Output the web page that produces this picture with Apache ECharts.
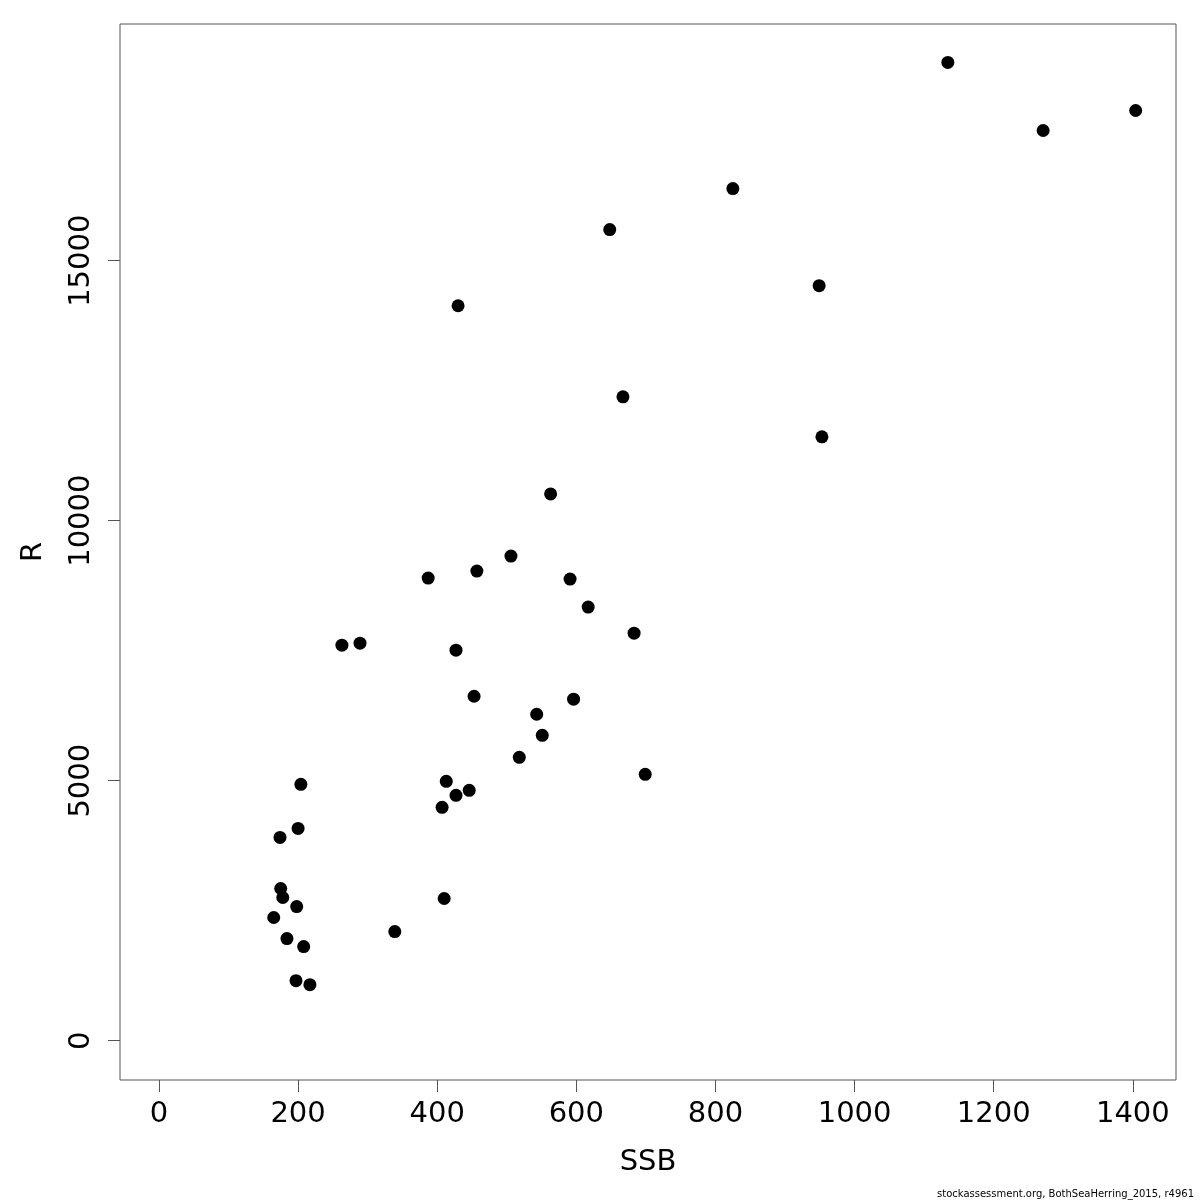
<!DOCTYPE html>
<html>
<head>
<meta charset="utf-8">
<script src="https://cdn.jsdelivr.net/npm/echarts@6/dist/echarts.min.js"></script>
<style>html,body{margin:0;padding:0;background:#fff}#c{width:1200px;height:1200px}</style>
</head>
<body>
<div id="c"></div>
<script>
const ssb = [1134, 1271, 1404, 825, 648, 949, 430, 667, 953, 563, 506, 457, 387, 591, 617, 683, 289, 263, 427, 453, 596, 543, 551, 518, 699, 204, 413, 446, 427, 407, 200, 174, 175, 178, 198, 165, 410, 339, 184, 208, 197, 217];
const rec = [18814, 17504, 17889, 16387, 15598, 14520, 14134, 12382, 11612, 10514, 9320, 9031, 8897, 8877, 8338, 7837, 7645, 7606, 7510, 6624, 6567, 6278, 5873, 5450, 5122, 4930, 4988, 4814, 4718, 4487, 4082, 3909, 2927, 2754, 2580, 2369, 2734, 2099, 1964, 1810, 1155, 1078];
const xTicks = [0, 200, 400, 600, 800, 1000, 1200, 1400];
const yTicks = [0, 5000, 10000, 15000];
const xName = 'SSB';
const yName = 'R';
const footnote = 'stockassessment.org, BothSeaHerring_2015, r4961';

const points = ssb.map((v, i) => [v, rec[i]]);
const font = 'DejaVu Sans';
const chart = echarts.init(document.getElementById('c'));
chart.setOption({
  animation: false,
  backgroundColor: '#fff',
  grid: { left: 120, top: 24, width: 1056, height: 1056, show: true, borderColor: '#555', borderWidth: 1, backgroundColor: 'transparent', containLabel: false, outerBoundsMode: 'none' },
  xAxis: {
    type: 'value', min: -56, max: 1462,
    name: xName, nameLocation: 'middle', nameGap: 68,
    nameTextStyle: { fontFamily: font, fontSize: 29, color: '#000' },
    axisLine: { show: false, onZero: false },
    splitLine: { show: false },
    axisTick: { show: true, inside: false, length: 12, customValues: xTicks, lineStyle: { color: '#555' } },
    axisLabel: { customValues: xTicks, formatter: v => String(v), fontFamily: font, fontSize: 29, color: '#000', margin: 20 }
  },
  yAxis: {
    type: 'value', min: -756, max: 19552,
    name: yName, nameLocation: 'middle', nameGap: 72, nameRotate: 90,
    nameTextStyle: { fontFamily: font, fontSize: 29, color: '#000' },
    axisLine: { show: false, onZero: false },
    splitLine: { show: false },
    axisTick: { show: true, inside: false, length: 12, customValues: yTicks, lineStyle: { color: '#555' } },
    axisLabel: { customValues: yTicks, formatter: v => String(v), rotate: 90, fontFamily: font, fontSize: 29, color: '#000', margin: 24, align: 'center', verticalAlign: 'bottom' }
  },
  series: [{
    type: 'scatter', data: points, symbol: 'circle', symbolSize: 13,
    itemStyle: { color: '#000', opacity: 1 }
  }],
  graphic: [{
    type: 'text', right: 6, bottom: 1,
    style: { text: footnote, fontFamily: font, fontSize: 10, fill: '#000' }
  }]
});
</script>
</body>
</html>
